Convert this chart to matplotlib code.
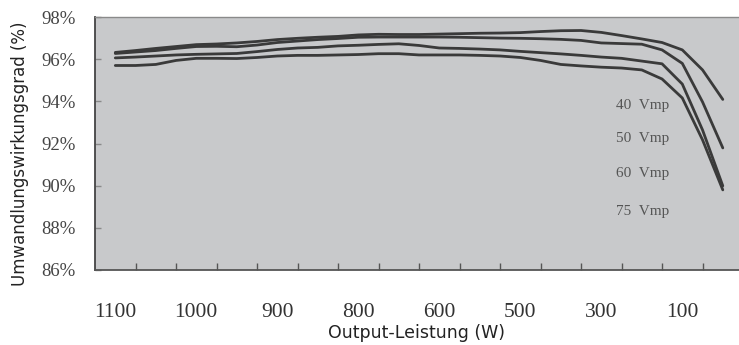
import matplotlib.pyplot as plt
import numpy as np

# x axis is not linear: labels sit between the tick marks
tick_labels = ['1100', '1000', '900', '800', '600', '500', '300', '100']
label_pos = [0.5, 2.5, 4.5, 6.5, 8.5, 10.5, 12.5, 14.5]
x = np.arange(0.5, 15.6, 0.5)

# efficiency (%), top to bottom
eff_a = [96.32, 96.41, 96.51, 96.60, 96.69, 96.72, 96.77, 96.84, 96.93, 96.99,
         97.04, 97.08, 97.15, 97.18, 97.17, 97.17, 97.19, 97.21, 97.23, 97.24,
         97.26, 97.31, 97.35, 97.36, 97.27, 97.12, 96.96, 96.79, 96.44, 95.49, 94.09]
eff_b = [96.27, 96.34, 96.41, 96.51, 96.60, 96.61, 96.59, 96.67, 96.79, 96.86,
         96.93, 96.98, 97.04, 97.05, 97.05, 97.05, 97.05, 97.04, 97.02, 97.00,
         96.99, 96.97, 96.94, 96.89, 96.77, 96.74, 96.71, 96.44, 95.80, 93.97, 91.79]
eff_c = [96.06, 96.10, 96.15, 96.20, 96.23, 96.25, 96.27, 96.36, 96.46, 96.53,
         96.56, 96.63, 96.66, 96.70, 96.73, 96.65, 96.53, 96.51, 96.48, 96.44,
         96.37, 96.31, 96.25, 96.18, 96.10, 96.04, 95.91, 95.78, 94.82, 92.64, 89.99]
eff_d = [95.70, 95.70, 95.75, 95.94, 96.04, 96.04, 96.03, 96.08, 96.15, 96.18,
         96.18, 96.20, 96.22, 96.26, 96.26, 96.20, 96.20, 96.20, 96.18, 96.15,
         96.08, 95.94, 95.75, 95.68, 95.62, 95.58, 95.49, 95.06, 94.16, 92.17, 89.80]

vmp_labels = ['40  Vmp', '50  Vmp', '60  Vmp', '75  Vmp']
vmp_y = [93.80, 92.25, 90.56, 88.77]

fig = plt.figure(figsize=(7.39, 3.45), dpi=100)
ax = fig.add_axes([0.1286, 0.2174, 0.8714, 0.7333])
ax.set_facecolor('#c8c9cb')

for s in [eff_a, eff_b, eff_c, eff_d]:
    ax.plot(x, s, color='#3a3a3a', lw=2.0, solid_capstyle='round', solid_joinstyle='round')

for t, yy in zip(vmp_labels, vmp_y):
    ax.text(12.86, yy, t, fontsize=11, family='Liberation Serif',
            color='#555555', va='center', ha='left')

ax.set_xlim(0, 15.9)
ax.set_ylim(86, 98)

ax.set_xticks(range(1, 16))
ax.set_xticklabels([])
ax.set_xticks(label_pos, minor=True)
ax.set_xticklabels(tick_labels, minor=True, fontsize=15.5, family='Liberation Serif', color='#333333')
ax.tick_params(axis='x', which='major', direction='in', length=5, width=1, color='#555555')
ax.tick_params(axis='x', which='minor', length=0, pad=24)

yt = [86, 88, 90, 92, 94, 96, 98]
ax.set_yticks(yt)
ax.set_yticklabels([f'{v}%' for v in yt], fontsize=13.5, family='Liberation Serif', color='#444444')
ax.tick_params(axis='y', direction='in', length=4, width=1, color='#8a8a8a', pad=14)

ax.spines['left'].set_color('#444444')
ax.spines['left'].set_linewidth(1.3)
ax.spines['bottom'].set_color('#555555')
ax.spines['bottom'].set_linewidth(1.3)
ax.spines['top'].set_color('#8a8a8a')
ax.spines['top'].set_linewidth(1.0)
ax.spines['right'].set_visible(False)

ax.set_xlabel('Output-Leistung (W)', fontsize=12.5, color='#222222', va='center')
ax.xaxis.set_label_coords(0.499, -0.249)
ax.set_ylabel('Umwandlungswirkungsgrad (%)', fontsize=12, color='#222222', va='center')
ax.yaxis.set_label_coords(-0.1165, 0.458)

fig.savefig('out.png', dpi=100)
